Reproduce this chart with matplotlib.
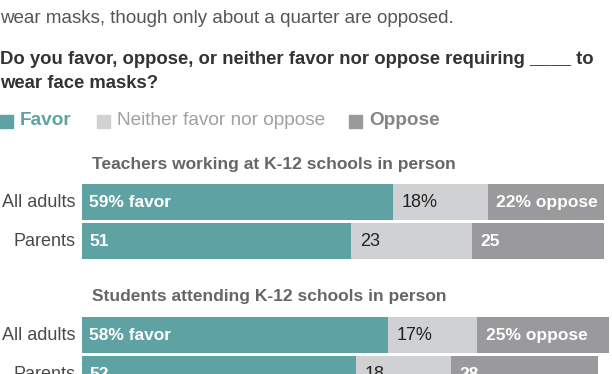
import matplotlib.pyplot as plt
import numpy as np

groups = ['Teachers working at K-12 schools in person',
          'Students attending K-12 schools in person']
rows = ['All adults', 'Parents']
favor = [[59, 51], [58, 52]]
neither = [[18, 23], [17, 18]]
oppose = [[22, 25], [25, 28]]

C_FAV = '#5fa2a4'
C_NEI = '#d0d1d3'
C_OPP = '#9a9a9c'

FONT = ['Liberation Sans', 'DejaVu Sans']

W, H = 612, 374
fig = plt.figure(figsize=(W / 100, H / 100), dpi=100)


def px_text(x, y, s, **kw):
    fig.text(x / W, 1 - y / H, s, family=FONT, **kw)


# header
px_text(0, 23, 'wear masks, though only about a quarter are opposed.',
        fontsize=13.5, color='#555555', va='baseline')
px_text(0, 64, 'Do you favor, oppose, or neither favor nor oppose requiring ____ to',
        fontsize=13.3, weight='bold', color='#333333', va='baseline')
px_text(0, 88, 'wear face masks?',
        fontsize=13.3, weight='bold', color='#333333', va='baseline')

# legend
legend_items = [('Favor', C_FAV, C_FAV, 'bold', 0),
                ('Neither favor nor oppose', C_NEI, '#a0a0a0', 'normal', 97),
                ('Oppose', C_OPP, '#858585', 'bold', 349)]
for name, sq, tc, wt, x0 in legend_items:
    fig.patches.append(plt.Rectangle((x0 / W, 1 - 128 / H), 13 / W, 13 / H,
                                     transform=fig.transFigure, color=sq))
    px_text(x0 + 20, 121, name, fontsize=13.7, weight=wt, color=tc, va='center')

# bar panels: one axes per group
row_centers = [202, 335]
pitch = 39
for g, (title, yc) in enumerate(zip(groups, row_centers)):
    top = yc - pitch / 2
    bottom = yc + pitch * 1.5
    ax = fig.add_axes([82 / W, 1 - bottom / H, 527 / W, (bottom - top) / H])
    ax.set_xlim(0, 100)
    ax.set_ylim(1.5, -0.5)
    ax.axis('off')
    y = np.arange(len(rows))
    f = np.array(favor[g])
    n = np.array(neither[g])
    o = np.array(oppose[g])
    ax.barh(y, f, height=0.92, color=C_FAV, clip_on=False)
    ax.barh(y, n, left=f, height=0.92, color=C_NEI, clip_on=False)
    ax.barh(y, o, left=f + n, height=0.92, color=C_OPP, clip_on=False)
    lab = dict(textcoords='offset points', va='center', family=FONT,
               annotation_clip=False)
    for i, r in enumerate(rows):
        ax.annotate(r, (0, i), xytext=(-4.5, 0), ha='right', fontsize=13,
                    color='#4a4a4a', **lab)
        ft = f'{f[i]}% favor' if i == 0 else f'{f[i]}'
        nt = f'{n[i]}%' if i == 0 else f'{n[i]}'
        ot = f'{o[i]}% oppose' if i == 0 else f'{o[i]}'
        ax.annotate(ft, (0, i), xytext=(5, 0), ha='left', fontsize=12.5,
                    weight='bold', color='white', **lab)
        ax.annotate(nt, (f[i], i), xytext=(6.5, 0), ha='left', fontsize=13,
                    color='#222222', **lab)
        ax.annotate(ot, (f[i] + n[i], i), xytext=(6, 0), ha='left', fontsize=12.5,
                    weight='bold', color='white', **lab)
    px_text(92, yc - 38, title, fontsize=12.5, weight='bold',
            color='#666666', va='center')

fig.savefig('out.png', dpi=100)
